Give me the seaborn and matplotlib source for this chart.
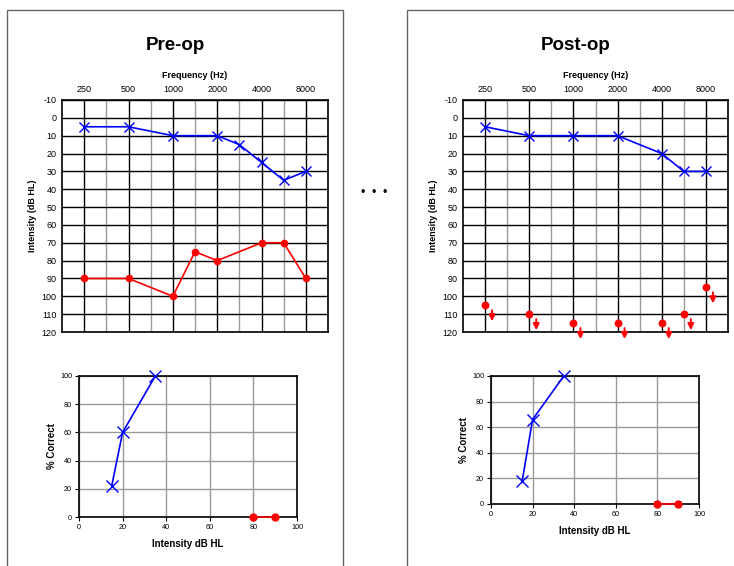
import numpy as np
import pandas as pd
import matplotlib
matplotlib.use("Agg")
import matplotlib.pyplot as plt
import matplotlib.patches as patches
from matplotlib.transforms import offset_copy
import seaborn as sns

# ---------------- data ----------------
octave_freqs = [250, 500, 1000, 2000, 4000, 8000]
half_freqs = [375, 750, 1500, 3000, 6000]
freq_labels = ["250", "500", "1000", "2000", "4000", "8000"]
db_ticks = list(range(-10, 121, 10))

pre_blue_freq = [250, 500, 1000, 2000, 3000, 4000, 6000, 8000]
pre_blue_db = [5, 5, 10, 10, 15, 25, 35, 30]
pre_red_freq = [250, 500, 1000, 1500, 2000, 4000, 6000, 8000]
pre_red_db = [90, 90, 100, 75, 80, 70, 70, 90]

post_blue_freq = [250, 500, 1000, 2000, 4000, 6000, 8000]
post_blue_db = [5, 10, 10, 10, 20, 30, 30]
post_red_freq = [250, 500, 1000, 2000, 4000, 6000, 8000]
post_red_db = [105, 110, 115, 115, 115, 110, 95]

pre_sp_blue_x = [15, 20, 35]
pre_sp_blue_y = [22, 60, 100]
post_sp_blue_x = [15, 20, 35]
post_sp_blue_y = [18, 66, 100]
sp_red_x = [80, 90]
sp_red_y = [0, 0]
sp_ticks = [0, 20, 40, 60, 80, 100]

# ---------------- style ----------------
sns.set_style("white")
plt.rcParams["font.family"] = ["Liberation Sans", "DejaVu Sans"]
plt.rcParams["axes.unicode_minus"] = False
for k in ("text.color", "axes.labelcolor", "xtick.color", "ytick.color"):
    plt.rcParams[k] = "black"

W, H = 734, 566
fig = plt.figure(figsize=(W / 100, H / 100), dpi=100)


def rect(x0, y0, x1, y1):
    return [x0 / W, 1 - y1 / H, (x1 - x0) / W, (y1 - y0) / H]


# panel boxes
for x0, x1 in [(7, 343), (407, 745)]:
    fig.add_artist(patches.Rectangle((x0 / W, -0.1), (x1 - x0) / W, 1.1 - 10 / H,
                                     transform=fig.transFigure, fill=False,
                                     edgecolor="#666666", lw=1.0))

for dx in (363, 374, 385):
    fig.text(dx / W, 1 - 193 / H, "\u2022", ha="center", va="center",
             fontsize=9, color="black")

grid_f = [187.5, 250, 375, 500, 750, 1000, 1500, 2000, 3000, 4000, 6000, 8000, 12000]
grid_p = np.arange(len(grid_f), dtype=float)


def fwd(f):
    return np.interp(f, grid_f, grid_p)


def inv(p):
    return np.interp(p, grid_p, grid_f)


def audiogram(rc, title, title_x, bf, bd, rf, rd, arrows=False):
    ax = fig.add_axes(rc)
    ax.set_xscale("function", functions=(fwd, inv))
    ax.set_xlim(187.5, 12000)
    ax.set_ylim(120, -10)
    ax.set_yticks(db_ticks)
    ax.set_xticks(octave_freqs)
    ax.set_xticklabels(freq_labels)
    ax.set_xticks(half_freqs, minor=True)
    ax.xaxis.tick_top()
    ax.xaxis.set_label_position("top")
    ax.tick_params(which="both", length=0, labelsize=6.5, pad=4)
    ax.grid(which="major", axis="both", color="black", lw=1.0)
    ax.grid(which="minor", axis="x", color="#999999", lw=1.0)
    ax.set_axisbelow(True)
    for s in ax.spines.values():
        s.set_color("black")
        s.set_linewidth(1.2)
    ax.set_xlabel("Frequency (Hz)", fontsize=6.5, fontweight="bold", labelpad=5)
    ax.set_ylabel("Intensity (dB HL)", fontsize=6.5, fontweight="bold", labelpad=3)
    sns.lineplot(x=bf, y=bd, ax=ax, color="blue", marker="x", markersize=7,
                 markeredgecolor="blue", markeredgewidth=1.0, lw=1.2, zorder=5)
    if not arrows:
        sns.lineplot(x=rf, y=rd, ax=ax, color="red", marker="o", markersize=5.5,
                     markeredgecolor="red", markeredgewidth=0, lw=1.2, zorder=5)
    else:
        sns.scatterplot(x=rf, y=rd, ax=ax, color="red", s=32, linewidth=0,
                        zorder=5, clip_on=False)
        for f, v in zip(rf, rd):
            ax.annotate("", xy=(f, v), xycoords=offset_copy(ax.transData, fig=fig, x=7, y=-16, units="dots"),
                        xytext=(f, v), textcoords=offset_copy(ax.transData, fig=fig, x=7, y=-5, units="dots"),
                        arrowprops=dict(arrowstyle="-|>", color="red", lw=1.4,
                                        mutation_scale=9, shrinkA=0, shrinkB=0),
                        annotation_clip=False)
    ax.set_xlim(187.5, 12000)
    ax.set_ylim(120, -10)
    fig.text(title_x / W, 1 - 46 / H, title, ha="center", va="center",
             fontsize=13.5, fontweight="bold", color="black")
    return ax


def speech(rc, bx, by):
    ax = fig.add_axes(rc)
    ax.set_xlim(0, 100)
    ax.set_ylim(0, 100)
    ax.set_xticks(sp_ticks)
    ax.set_yticks(sp_ticks)
    ax.grid(True, color="#999999", lw=1.0)
    ax.set_axisbelow(True)
    for s in ax.spines.values():
        s.set_color("black")
        s.set_linewidth(1.2)
    ax.tick_params(which="both", length=3, width=0.8, labelsize=5.2, pad=2,
                   left=True, bottom=True, direction="out")
    ax.set_xlabel("Intensity dB HL", fontsize=7, fontweight="bold", labelpad=6)
    ax.set_ylabel("% Correct", fontsize=7, fontweight="bold", labelpad=2)
    sns.lineplot(x=bx, y=by, ax=ax, color="blue", marker="x", markersize=8,
                 markeredgecolor="blue", markeredgewidth=1.0, lw=1.2, zorder=5,
                 clip_on=False)
    sns.lineplot(x=sp_red_x, y=sp_red_y, ax=ax, color="red", marker="o", markersize=6,
                 markeredgecolor="red", markeredgewidth=0, lw=1.2, zorder=6,
                 clip_on=False)
    ax.set_xlim(0, 100)
    ax.set_ylim(0, 100)
    return ax


audiogram(rect(62, 100, 328, 332), "Pre-op", 175, pre_blue_freq, pre_blue_db,
          pre_red_freq, pre_red_db)
audiogram(rect(463, 100, 728, 332), "Post-op", 576, post_blue_freq, post_blue_db,
          post_red_freq, post_red_db, arrows=True)
speech(rect(79, 376, 297, 517), pre_sp_blue_x, pre_sp_blue_y)
speech(rect(491, 376, 699, 504), post_sp_blue_x, post_sp_blue_y)

fig.savefig("out.png", dpi=100)
